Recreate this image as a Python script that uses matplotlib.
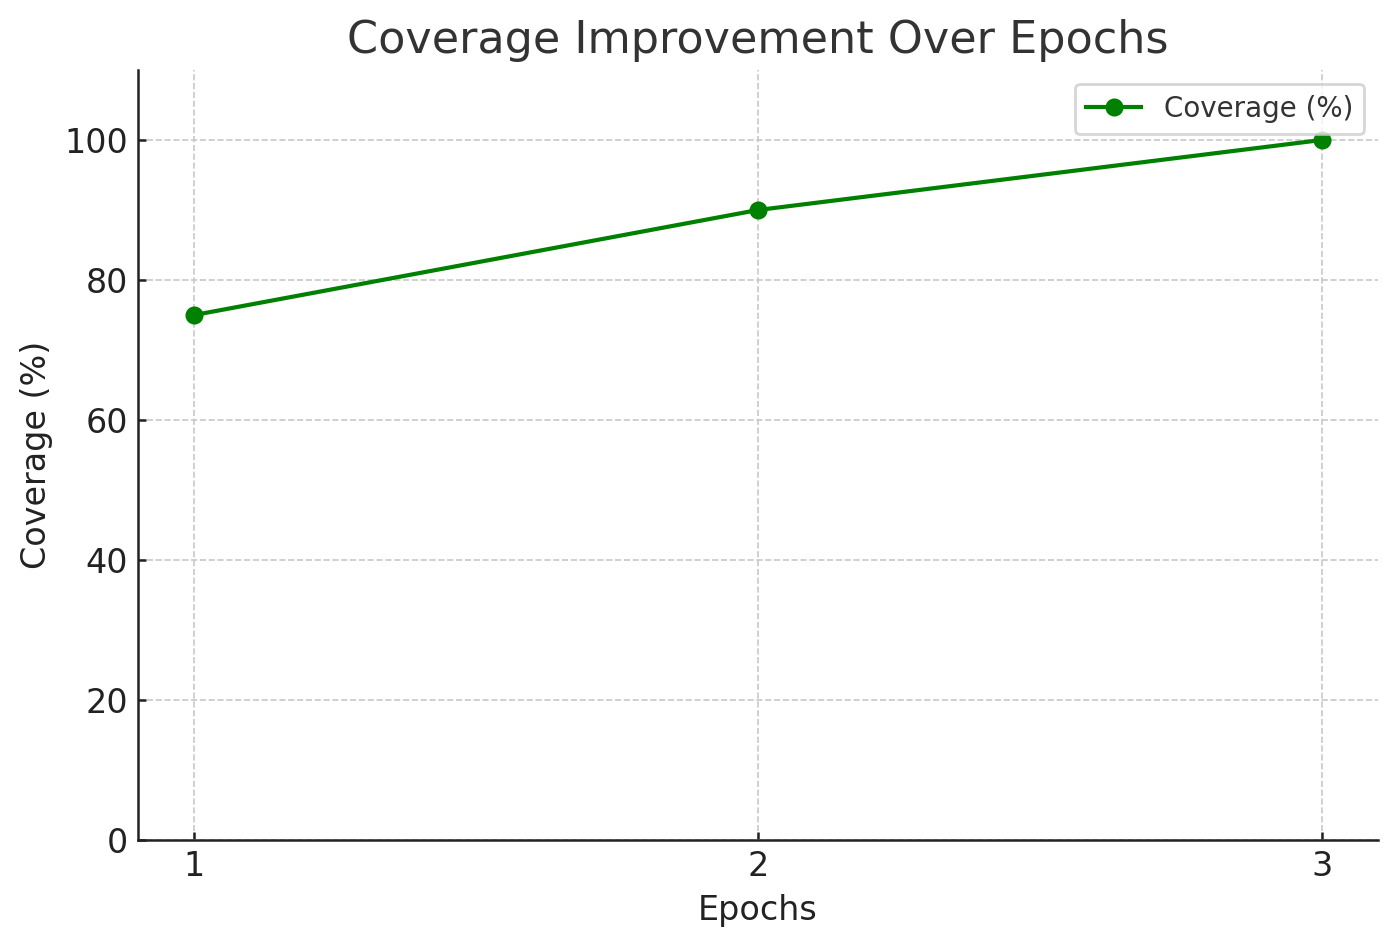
import matplotlib
matplotlib.use("Agg")
import matplotlib.pyplot as plt

epochs = [1, 2, 3]
coverage = [75, 90, 100]

plt.rcParams['font.family'] = ['DejaVu Sans']
fig, ax = plt.subplots(figsize=(6.985, 4.735), dpi=200)
fig.subplots_adjust(left=138/1397, right=1378/1397, top=1-70/947, bottom=1-840/947)

ax.plot(epochs, coverage, marker='o', color='green', linewidth=1.5, markersize=5.5, label='Coverage (%)')
ax.set_xlim(0.9, 3.1)
ax.set_ylim(0, 110)
ax.set_xticks(epochs)
ax.set_yticks([0, 20, 40, 60, 80, 100])
ax.grid(True, linestyle='--', color='#c8c8c8', linewidth=0.6)
ax.set_axisbelow(True)
for s in ['top', 'right']:
    ax.spines[s].set_visible(False)
for s in ['left', 'bottom']:
    ax.spines[s].set_color('#222222')
    ax.spines[s].set_linewidth(0.9)
ax.tick_params(axis='both', labelsize=12, colors='#222222', direction='in',
               length=3, width=0.9, pad=3.5)
ax.set_title('Coverage Improvement Over Epochs', fontsize=16, color='#333333')
ax.set_xlabel('Epochs', fontsize=12, color='#222222')
ax.set_ylabel('Coverage (%)', fontsize=12, color='#222222')
leg = ax.legend(loc='upper right', fontsize=10)
for t in leg.get_texts():
    t.set_color('#333333')

fig.savefig('out.png', dpi=200)
